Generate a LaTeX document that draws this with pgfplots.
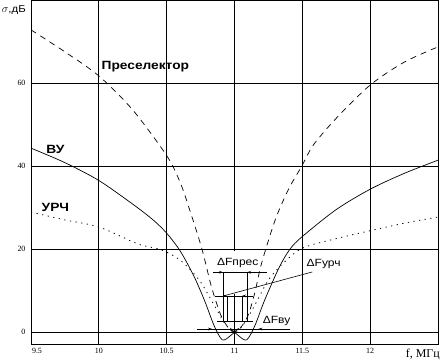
\documentclass[border=0pt]{standalone}
\usepackage{fontspec}
\setmainfont{Liberation Serif}
\setsansfont{Liberation Sans}
\newfontfamily\lbl[FakeStretch=1.15]{Liberation Sans}
\usepackage{pgfplots}
\pgfplotsset{compat=1.18}
\usetikzlibrary{arrows.meta}
\begin{document}
\begin{tikzpicture}
\useasboundingbox (-31bp,-18bp) rectangle (411bp,344bp);
\begin{axis}[
  scale only axis, width=407bp, height=344bp,
  anchor=south west, at={(0,0)},
  xmin=9.5, xmax=12.5, ymin=-2.9, ymax=80,
  xtick={9.5,10,10.5,11,11.5,12},
  xticklabels={\hspace*{12bp}9.5,10,10.5,11,11.5,12},
  ytick={0,20,40,60},
  grid=major,
  major grid style={black, line width=0.7bp},
  axis line style={black, line width=0.8bp},
  major tick length=0pt,
  /pgf/number format/assume math mode=true,
  xticklabel style={font=\fontsize{8}{9}\selectfont, yshift=-1bp},
  yticklabel style={font=\fontsize{8}{9}\selectfont, xshift=-2bp},
  clip=false,
]
% gap in grid line at x=11
\draw[white, line width=2bp] (axis cs:11,9.2) -- (axis cs:11,19.6);

% Preselector (dashed)
\addplot[black, line width=0.7bp, dash pattern=on 6bp off 5bp, smooth, tension=0.5] coordinates {
(9.5,72.8) (9.75,67.5) (10,61.7) (10.25,53.5) (10.5,42.5) (10.6,36) (10.67,29.4) (10.76,20) (10.83,10.9) (10.9,4) (10.96,0.8) (11,0) (11.04,0.8) (11.1,4) (11.15,9.5) (11.2,16.6) (11.3,27) (11.4,34.5) (11.5,40.2) (11.58,45) (11.75,51.5) (12,59.5) (12.25,65) (12.5,68.7)
};
% VU (solid)
\addplot[black, line width=0.7bp, smooth, tension=0.5] coordinates {
(9.5,44.3) (9.75,40.8) (10,36.5) (10.25,30.8) (10.4,27) (10.5,23.8) (10.6,19.5) (10.7,13.5) (10.78,7.5) (10.85,1.5) (10.91,-1.9) (10.97,-0.9) (11.03,0.9)
};
\addplot[black, line width=0.7bp, smooth, tension=0.5] coordinates {
(10.97,0.9) (11.03,-0.9) (11.09,-1.9) (11.15,1.5) (11.22,7.5) (11.33,15.6) (11.41,20) (11.5,23) (11.75,29.5) (12,34.4) (12.25,38.2) (12.5,41.4)
};
% URCh (dotted)
\addplot[black, line width=0.8bp, dash pattern=on 1.2bp off 4.5bp, smooth, tension=0.5] coordinates {
(9.5,28.9) (9.75,27) (10,25.3) (10.29,21.2) (10.46,19.8) (10.6,17.3) (10.74,12.5) (10.85,6.5) (10.93,2) (11,0) (11.07,2) (11.15,6.5) (11.25,12.5) (11.36,16.6) (11.5,20.2) (11.75,22.5) (12,24.4) (12.25,26.2) (12.5,27.7)
};

% annotations
\tikzset{arr/.style={-{Stealth[length=4bp,width=2.6bp]}, line width=0.6bp}}
% dF pres
\draw[line width=0.6bp] (axis cs:10.841,14.38) -- (axis cs:11.239,14.38);
\draw[arr] (axis cs:10.841,14.38) -- (axis cs:10.917,14.38);
\draw[arr] (axis cs:11.239,14.38) -- (axis cs:11.092,14.38);
\draw[line width=0.6bp] (axis cs:10.917,14.38) -- (axis cs:10.917,2.65);
\draw[line width=0.6bp] (axis cs:11.092,14.38) -- (axis cs:11.092,2.65);
% dF urch
\draw[line width=0.6bp] (axis cs:10.858,8.67) -- (axis cs:11.138,8.67);
\draw[arr] (axis cs:10.858,8.67) -- (axis cs:10.944,8.67);
\draw[arr] (axis cs:11.138,8.67) -- (axis cs:11.055,8.67);
\draw[line width=0.6bp] (axis cs:10.944,8.67) -- (axis cs:10.944,2.65);
\draw[line width=0.6bp] (axis cs:11.055,8.67) -- (axis cs:11.055,2.65);
\draw[line width=0.6bp] (axis cs:10.873,2.65) -- (axis cs:11.138,2.65);
\draw[line width=0.6bp] (axis cs:10.917,8.67) -- (axis cs:11.573,14.46);
% dF vu
\draw[line width=0.6bp] (axis cs:10.726,0.7) -- (axis cs:11.411,0.7);
\draw[arr] (axis cs:10.726,0.7) -- (axis cs:10.836,0.7);
\draw[arr] (axis cs:11.411,0.7) -- (axis cs:11.175,0.7);

\node[font=\lbl\fontsize{10.5}{12}\selectfont, fill=white, inner sep=1bp] at (axis cs:11.024,16.6) {ΔFпрес};
\node[font=\lbl\fontsize{10.5}{12}\selectfont, inner sep=1bp] at (axis cs:11.657,16.4) {ΔFурч};
\node[font=\lbl\fontsize{10.5}{12}\selectfont, inner sep=1bp] at (axis cs:11.31,2.65) {ΔFву};

\node[font=\lbl\bfseries\fontsize{12}{14}\selectfont] at (axis cs:10.343,63.9) {Преселектор};
\node[font=\lbl\bfseries\fontsize{12}{14}\selectfont] at (axis cs:9.68,43.9) {ВУ};
\node[font=\lbl\bfseries\fontsize{12}{14}\selectfont] at (axis cs:9.68,29.9) {УРЧ};

\node[anchor=north east, font=\fontsize{12}{14}\selectfont, inner sep=0pt] at ([xshift=2bp,yshift=-5bp]rel axis cs:1,0) {f, МГц};
\node[anchor=north east, inner sep=0pt] at ([xshift=-5bp,yshift=-5bp]rel axis cs:0,1) {\fontsize{11}{13}\selectfont$\sigma$\lbl\fontsize{10}{12}\selectfont,дБ};
\end{axis}
\end{tikzpicture}
\end{document}
